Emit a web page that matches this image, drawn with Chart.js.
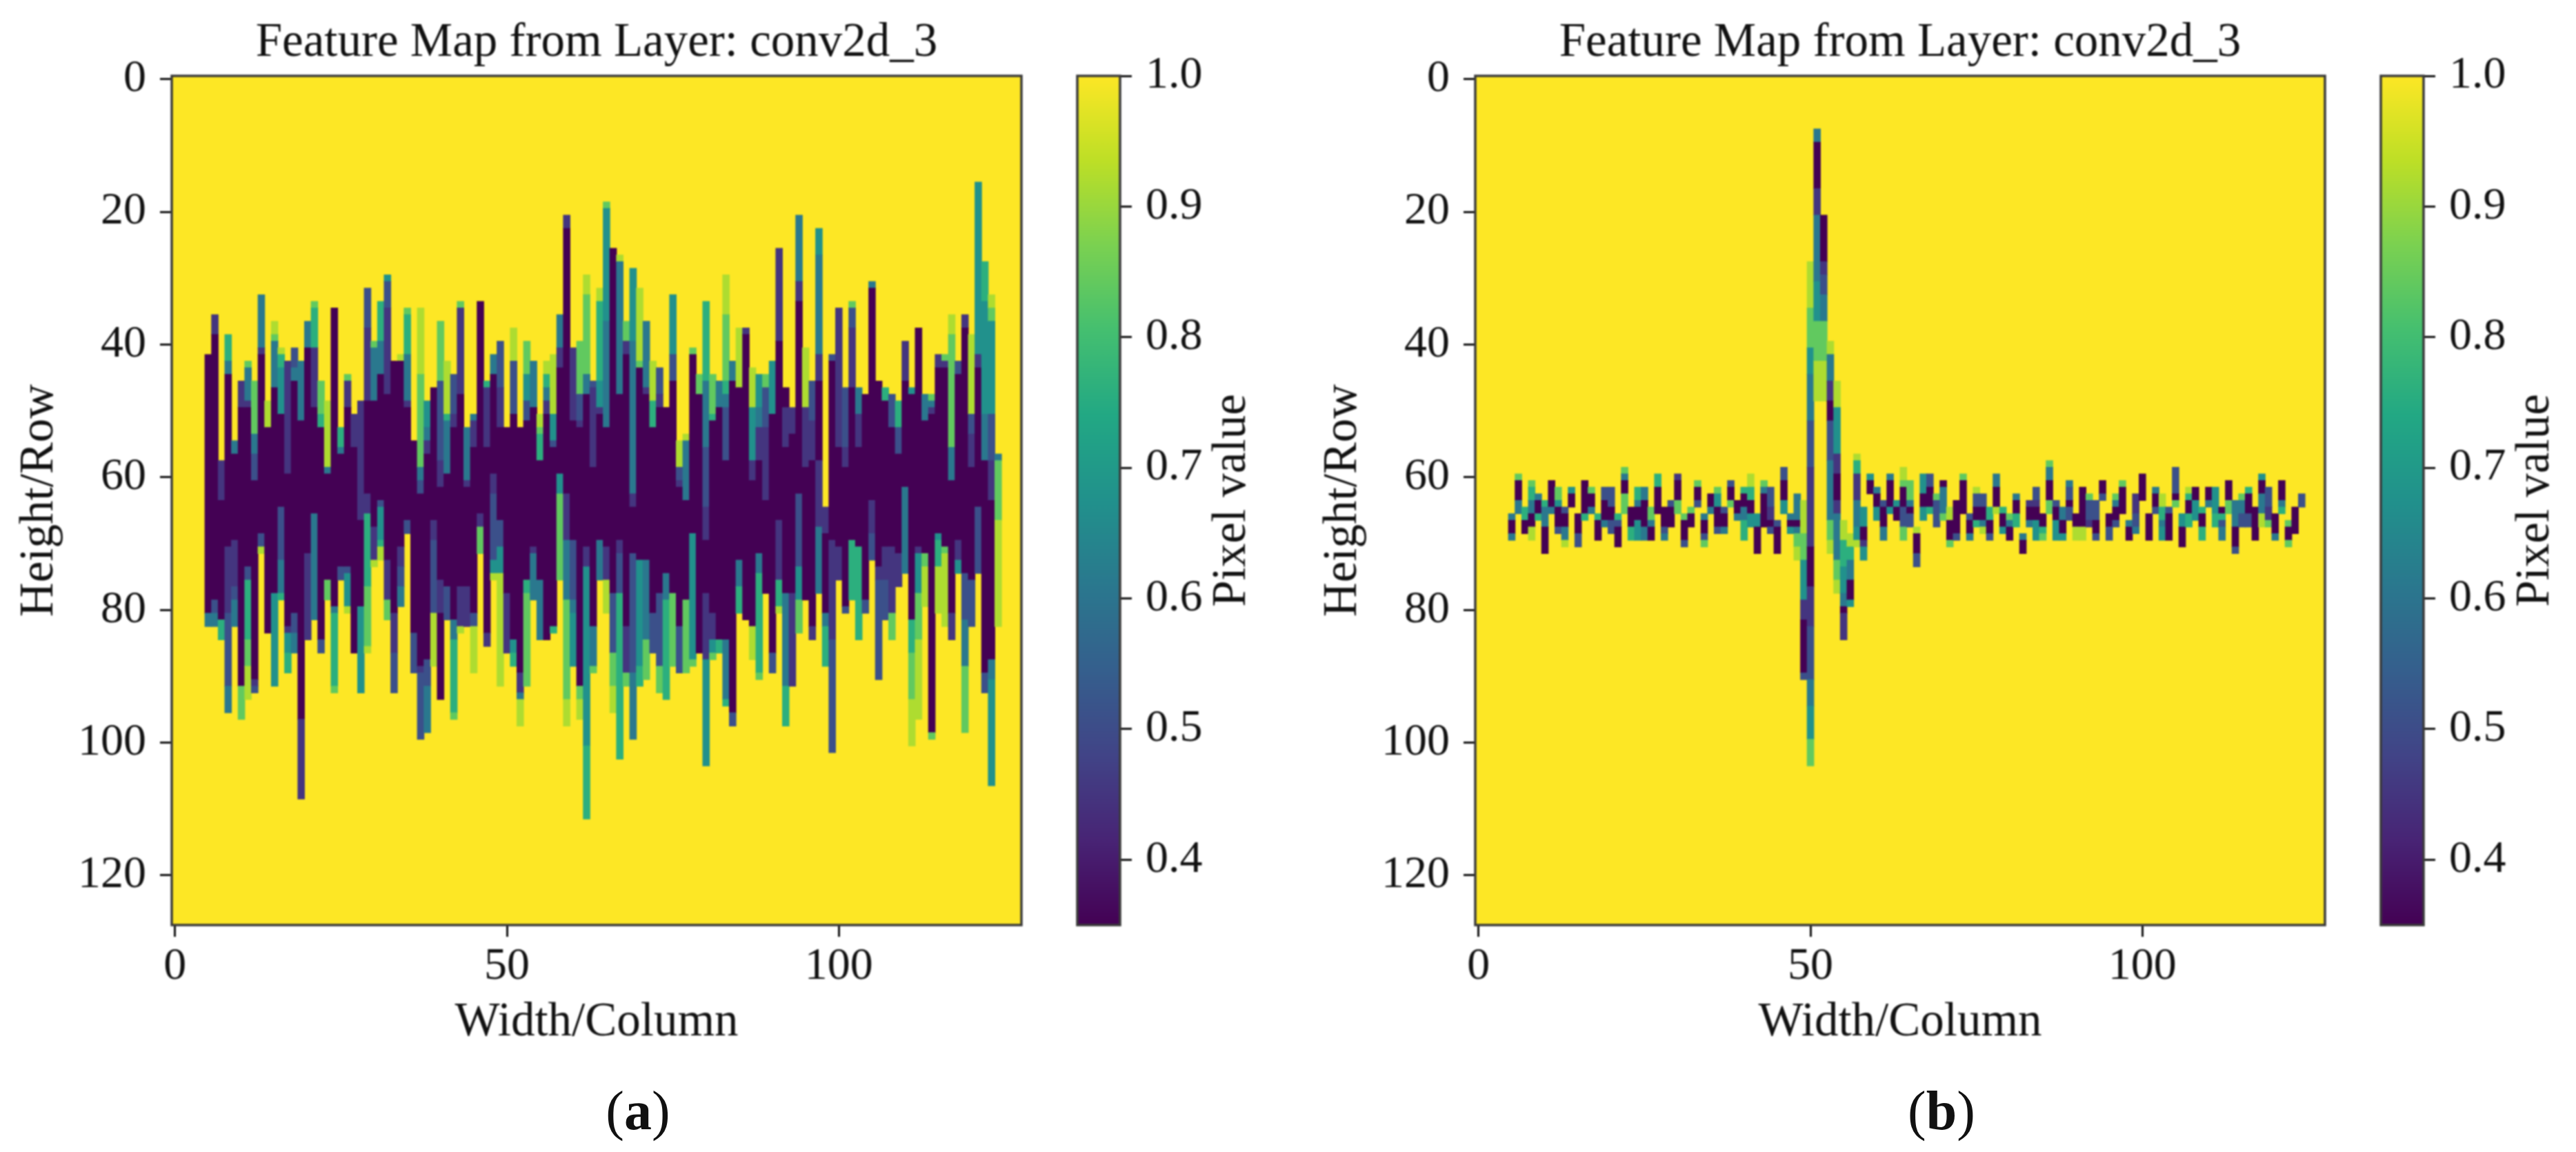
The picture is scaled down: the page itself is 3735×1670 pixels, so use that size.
<!DOCTYPE html>
<html>
<head>
<meta charset="utf-8">
<title>Feature maps</title>
<script src="https://cdn.jsdelivr.net/npm/chart.js@4"></script>
<style>
  html, body { margin: 0; padding: 0; background: #fff; }
  body { position: relative; width: 3735px; height: 1670px; overflow: hidden; }
  canvas { position: absolute; top: 0; filter: blur(1.1px); }
  .caption { position: absolute; top: 1565px; width: 200px; text-align: center; font: 80px "Liberation Serif", serif; color: #111; filter: blur(0.6px); }
</style>
</head>
<body>
<canvas id="heatA" width="1540" height="1560" style="left:0"></canvas>
<canvas id="barA" width="330" height="1560" style="left:1540px"></canvas>
<canvas id="heatB" width="1540" height="1560" style="left:1890px"></canvas>
<canvas id="barB" width="330" height="1560" style="left:3430px"></canvas>
<div class="caption" style="left:825px">(<b>a</b>)</div>
<div class="caption" style="left:2715px">(<b>b</b>)</div>
<script>
// pixel levels
var D = 0.35, P = 0.45, B = 0.51, T = 0.61, S = 0.675, G = 0.76, L = 0.84, Y = 0.92;

var chartTitle = 'Feature Map from Layer: conv2d_3';
var xLabel = 'Width/Column';
var yLabel = 'Height/Row';
var cbarLabel = 'Pixel value';
var xTicks = [0, 50, 100];
var yTicks = [0, 20, 40, 60, 80, 100, 120];
var cbarTicks = [0.4, 0.5, 0.6, 0.7, 0.8, 0.9, 1.0];
var cbarRange = [0.35, 1.0];
var gridSize = 128;
var firstColumn = 5;
var blankValue = 1;

var viridis = ['#440154', '#482475', '#414487', '#355f8d', '#2a788e', '#21918c', '#22a884', '#44bf70', '#7ad151', '#bddf26', '#fde725'];

// one list per column from column 5: start row, level, start row, level, ... end row
var columnsA = [
  [42,D,81,T,83],
  [36,P,39,D,79,B,81,T,83],
  [58,P,64,D,82,G,85],
  [39,G,43,T,45,D,71,P,81,B,92,T,96],
  [55,T,57,D,70,P,77,B,79,T,83],
  [46,P,50,D,92,L,97],
  [43,L,44,T,49,P,50,D,74,B,76,G,85,L,89,Y,94],
  [46,L,54,T,57,B,61,D,91,P,92,B,93],
  [33,T,41,P,42,D,69,B,71,Y,72],
  [49,Y,53,D,84],
  [37,Y,39,L,40,T,47,D,78,S,92],
  [41,Y,42,G,44,S,51,D,65,B,73,T,78,G,79],
  [43,P,60,D,83,P,84,S,87,G,90],
  [41,B,44,T,46,D,81,B,84,T,87],
  [43,T,52,D,97,P,109],
  [37,T,41,D,72,P,85],
  [34,L,35,G,41,P,50,D,66,T,82],
  [46,L,51,G,53,D,85,B,87],
  [49,Y,59,T,60,D,76,L,79],
  [35,D,80,T,81,G,92,L,93],
  [53,G,56,T,57,D,74,B,76],
  [45,L,46,P,50,D,74,B,75,S,80,Y,81],
  [51,P,56,D,87],
  [49,P,67,D,80,S,93],
  [32,B,38,P,49,D,63,P,66,G,77,L,86,Y,87],
  [40,L,41,T,49,D,68,P,73,Y,74],
  [34,G,40,T,45,D,64,B,65,S,70,G,71,Y,73],
  [30,S,31,B,35,P,48,D,73,P,79,L,82],
  [43,D,81,P,87,B,93],
  [42,Y,43,D,71,P,74,B,77,T,80],
  [35,L,36,G,42,T,49,P,50,D,67,B,69],
  [55,D,84,B,90],
  [35,Y,45,L,59,T,61,B,63,D,89,P,90,B,100],
  [49,S,53,T,55,P,57,D,88,B,92,T,99],
  [47,D,67,P,70,B,81,Y,89],
  [37,L,46,B,58,P,62,D,76,P,81,D,94],
  [43,Y,51,G,52,T,60,D,77,B,82],
  [45,B,51,P,53,D,82,T,85,G,96,L,97],
  [34,L,35,P,48,D,77,P,83,Y,84],
  [53,T,61,P,62,D,77,P,83],
  [51,T,52,P,56,D,81,B,83,Y,90],
  [34,D,66,P,68,L,72],
  [46,G,47,P,56,D,84,P,86],
  [42,T,45,D,60,P,63,B,73,S,75,Y,76],
  [40,B,47,P,53,D,67,B,71,S,75,Y,92],
  [53,D,78,P,87],
  [38,Y,43,B,51,D,85,S,87,G,89],
  [53,D,90,P,93,T,94,Y,98],
  [40,L,45,S,49,B,52,D,76,G,78,L,92],
  [43,T,50,D,71,P,72,T,79],
  [51,Y,53,L,54,G,58,D,76,T,85],
  [43,Y,45,G,47,T,49,P,51,D,85],
  [42,Y,51,S,55,B,56,D,83,G,84],
  [36,T,41,P,44,D,60,S,63,L,76],
  [21,P,23,D,63,P,70,T,79,L,94,Y,98],
  [41,P,52,D,70,B,79,T,81,S,89],
  [40,L,48,B,52,P,53,D,92,L,94,Y,97],
  [30,Y,33,L,45,T,48,D,71,P,74,S,101,G,112],
  [46,B,47,P,59,D,83,T,89,L,90],
  [32,Y,34,G,46,S,50,P,51,D,70,T,76],
  [19,L,20,S,37,T,53,D,71,P,76,Y,81],
  [26,D,78,B,87,L,92,Y,96],
  [27,Y,28,T,48,D,70,P,72,B,78,G,103],
  [37,L,40,P,42,D,83,P,90,L,92],
  [29,S,40,T,63,P,65,D,72,B,90,T,100],
  [32,Y,43,L,44,D,73,S,89,G,92],
  [37,T,47,P,48,D,73,T,85,L,91],
  [43,Y,49,G,53,D,81,B,87],
  [44,B,48,P,50,D,78,B,89,L,93],
  [50,D,75,T,79,G,94],
  [33,S,42,B,46,D,78,L,89],
  [55,Y,59,B,61,P,62,D,83,B,90],
  [54,Y,55,T,64,D,79,L,90],
  [41,L,42,D,69,S,88,L,89],
  [45,L,48,D,87],
  [34,G,46,T,56,B,65,P,70,D,78,P,88,S,104],
  [45,L,51,G,52,D,81,P,85,S,87,L,88],
  [46,T,50,D,85,G,87],
  [30,Y,36,L,46,G,48,T,50,B,58,D,85,T,94,G,95],
  [43,T,46,D,96,B,98],
  [38,Y,47,D,73,T,77,G,81],
  [38,P,39,D,82],
  [44,Y,50,S,58,P,61,D,83,Y,88],
  [45,S,50,T,53,P,58,D,72,T,75,G,90,L,91],
  [45,L,47,B,53,P,64,D,78],
  [43,S,51,D,87,B,90],
  [26,P,40,D,67,P,76,G,80,Y,81],
  [47,D,50,P,56,D,78,T,92,G,98],
  [50,P,54,D,78,P,92],
  [21,T,31,P,34,D,63,B,74,S,79,L,84],
  [41,Y,50,P,59,D,79],
  [46,B,52,P,58,D,83,P,85],
  [23,S,27,T,42,P,46,D,58,P,68,T,78],
  [65,P,69,D,81,T,83,G,89],
  [42,B,43,D,70,P,85,B,102],
  [35,P,56,D,71,P,76],
  [47,B,56,P,59,D,80,B,81],
  [34,L,35,B,38,P,47,D,70,G,79],
  [47,T,51,P,56,D,71,G,85],
  [48,D,79,B,81],
  [31,T,32,D,64,P,69,B,73],
  [46,D,74,P,76,B,91],
  [47,G,49,D,71,P,76,B,82],
  [48,B,53,D,71,P,81,L,85],
  [49,G,53,B,57,D,72,P,77],
  [40,P,46,D,62,T,75],
  [47,S,48,D,82,G,87,L,94,Y,101],
  [38,D,71,P,72,S,78,L,85,Y,97],
  [48,T,52,D,72,L,74,Y,80],
  [48,L,49,T,50,P,51,D,99,L,100],
  [42,P,44,D,69,S,70,G,74,Y,81],
  [42,L,43,P,44,D,71,L,72,Y,83],
  [36,Y,39,L,56,T,61,D,81,P,85],
  [43,B,45,D,70,P,73,S,75],
  [36,P,38,D,75,B,82,T,89,L,99],
  [39,Y,51,B,54,P,59,D,76,B,83],
  [16,S,42,P,44,D,65,B,75],
  [28,G,34,S,51,T,58,D,90,B,93],
  [33,Y,35,L,37,S,51,B,58,P,64,D,88,T,91,S,107],
  [57,T,58,L,67,Y,83]
];

var columnsB = [
  [66,T,67,D,69,T,70],
  [60,L,61,D,64,T,66],
  [65,G,67,D,69],
  [61,L,62,G,64,T,66,D,68,Y,70],
  [63,T,64,D,66,G,67],
  [64,G,65,T,68,D,72],
  [61,D,65,T,66],
  [62,L,64,S,65,D,68,B,69],
  [65,B,66,D,68,T,70,Y,71],
  [62,S,63,D,65],
  [66,D,69,B,71],
  [61,D,66,G,67],
  [62,L,63,D,65,T,66],
  [66,G,67,D,70],
  [62,B,64,D,67,T,68],
  [62,B,65,D,67,B,69],
  [66,G,67,B,68,D,71],
  [59,L,60,T,61,D,63,L,66],
  [65,D,68,G,70],
  [62,G,64,T,65,D,67,S,70],
  [62,T,64,D,68,T,70],
  [65,L,67,T,68,D,70],
  [60,G,62,D,66],
  [65,D,68,B,69,T,70],
  [64,B,65,D,68],
  [60,P,61,D,64,L,66],
  [66,L,67,D,70,B,71],
  [65,L,66,D,68],
  [61,L,62,D,64,B,65],
  [66,T,67,D,69,B,70,L,71],
  [63,D,65,T,66],
  [62,L,63,S,65,D,68,B,69],
  [65,B,66,D,68,T,69],
  [61,B,62,D,64,L,65],
  [64,D,66,T,67],
  [62,G,63,D,65,T,67,G,70],
  [60,Y,62,G,64,D,66,S,68],
  [66,S,68,D,72],
  [61,L,62,T,63,D,68],
  [62,B,65,P,67,D,68,B,69],
  [67,B,68,D,72],
  [59,B,61,D,64,S,66],
  [66,T,67,D,68,S,69],
  [63,T,67,D,68,T,69,L,71,Y,73],
  [64,Y,69,L,73,S,79,P,82,D,90,B,91],
  [28,Y,35,L,41,S,45,T,52,B,59,P,71,D,77,P,83,B,91,T,95,S,100,L,104],
  [8,T,10,D,17,P,21,T,31,S,37,L,43,Y,49],
  [21,D,28,P,30,B,33,T,37,L,43,Y,49],
  [40,Y,42,T,46,P,49,D,52,B,58,T,67,L,70,Y,72],
  [46,Y,50,S,57,P,60,D,64,P,66,T,73,L,76,Y,78],
  [67,Y,70,G,74,S,78,T,80,D,81,P,85],
  [69,Y,71,G,73,T,76,D,79,S,80],
  [57,Y,58,G,60,P,64,T,68,S,70,Y,71],
  [65,S,68,D,70,P,71,S,73],
  [60,S,61,D,63],
  [62,T,63,D,65,S,67],
  [64,B,65,D,68,T,70],
  [60,T,61,D,65,S,66],
  [64,S,65,D,67],
  [59,Y,61,L,62,D,65,B,68,L,70],
  [61,L,64,T,65,D,66,B,68],
  [68,Y,69,D,72,B,74],
  [60,S,63,D,65,S,67],
  [60,B,62,D,65,G,66],
  [63,L,64,B,68],
  [61,D,62,T,66,L,67],
  [65,Y,67,D,70,L,71],
  [64,D,69,B,70],
  [60,L,61,D,66],
  [66,B,67,D,69,T,70],
  [62,Y,63,B,65,D,67,G,68],
  [63,B,65,D,67,T,68,Y,69],
  [65,G,67,D,69,B,70],
  [60,T,62,D,65,Y,66],
  [65,G,66,D,68,S,69],
  [66,L,67,T,68,D,70],
  [63,T,64,D,66,G,68],
  [69,T,70,D,72],
  [64,P,65,D,67,T,68],
  [62,B,64,P,65,D,67,S,70],
  [66,D,68,G,69,L,70],
  [58,L,59,T,61,D,64,L,66],
  [64,B,65,D,67,S,70],
  [65,T,67,D,69,S,70],
  [61,T,62,B,64,D,65,B,67],
  [66,D,68,Y,70],
  [62,D,68,Y,70],
  [63,L,64,B,67,P,68],
  [64,B,67,D,69,B,70],
  [61,D,63,B,64],
  [66,D,68,B,70],
  [63,L,64,T,65,D,67,B,68],
  [61,L,62,D,66],
  [67,T,68,D,70],
  [63,P,66,B,68,T,69],
  [60,D,64],
  [66,D,70],
  [62,T,63,D,65,B,66],
  [63,Y,65,G,67,T,68,S,70],
  [65,B,66,D,70],
  [59,B,63,D,64,L,65],
  [66,S,68,D,71],
  [62,Y,63,G,64,D,66,G,68],
  [62,D,64,S,67],
  [65,G,66,D,68,G,70],
  [62,D,64,T,65],
  [62,S,66,G,68],
  [65,D,66,G,67,B,68,T,70],
  [61,D,64,L,66],
  [64,T,68,D,71,B,72],
  [63,L,64,T,66,B,68],
  [62,G,63,D,66,B,68],
  [65,D,70],
  [60,S,61,D,63,T,66,Y,68],
  [62,B,65,P,67,L,68],
  [66,D,69,T,70],
  [61,D,64,T,65,G,66],
  [67,L,68,D,70,L,71],
  [65,D,69],
  [63,B,65]
];

var inkColor = '#111';
var spineColor = '#3a3a3a';
var serif = '"Liberation Serif", serif';

function hexToRgb(hex) {
  return [parseInt(hex.substr(1, 2), 16), parseInt(hex.substr(3, 2), 16), parseInt(hex.substr(5, 2), 16)];
}

// viridis lookup, normalised on the colour bar range
function colorOf(value) {
  var t = (value - cbarRange[0]) / (cbarRange[1] - cbarRange[0]);
  t = Math.max(0, Math.min(1, t)) * (viridis.length - 1);
  var i = Math.min(Math.floor(t), viridis.length - 2);
  var a = hexToRgb(viridis[i]), b = hexToRgb(viridis[i + 1]), f = t - i;
  return 'rgb(' + Math.round(a[0] + (b[0] - a[0]) * f) + ',' + Math.round(a[1] + (b[1] - a[1]) * f) + ',' + Math.round(a[2] + (b[2] - a[2]) * f) + ')';
}

function blankCells() {
  var cells = [];
  for (var c = 0; c < gridSize; c++) {
    cells.push({ x: c, y: [-0.5, gridSize - 0.5], v: blankValue });
  }
  return cells;
}

function buildCells(columns) {
  var cells = [];
  columns.forEach(function(run, i) {
    for (var j = 0; j < run.length - 2; j += 2) {
      cells.push({ x: firstColumn + i, y: [run[j] - 0.5, run[j + 2] - 0.5], v: run[j + 1] });
    }
  });
  return cells;
}

var outlinePlugin = {
  id: 'outline',
  afterDraw: function(chart) {
    var a = chart.chartArea, ctx = chart.ctx;
    ctx.save();
    ctx.strokeStyle = spineColor;
    ctx.lineWidth = 3.5;
    ctx.strokeRect(a.left, a.top, a.right - a.left, a.bottom - a.top);
    ctx.restore();
  }
};

var cbarLabelPlugin = {
  id: 'cbarLabel',
  afterDraw: function(chart) {
    var ctx = chart.ctx;
    ctx.save();
    ctx.translate(247, (chart.chartArea.top + chart.chartArea.bottom) / 2);
    ctx.rotate(-Math.PI / 2);
    ctx.font = '69px ' + serif;
    ctx.fillStyle = inkColor;
    ctx.textAlign = 'center';
    ctx.textBaseline = 'middle';
    ctx.fillText(cbarLabel, 0, 0);
    ctx.restore();
  }
};

function cellColor(ctx) {
  return ctx.raw ? colorOf(ctx.raw.v) : colorOf(blankValue);
}

function makeHeatmap(id, columns) {
  var barOpts = { grouped: false, categoryPercentage: 1, barPercentage: 1, inflateAmount: 0.5, borderWidth: 0, backgroundColor: cellColor };
  return new Chart(document.getElementById(id), {
    type: 'bar',
    data: {
      // the first dataset is painted last, so the cells sit above the blank field
      datasets: [
        Object.assign({ data: buildCells(columns) }, barOpts),
        Object.assign({ data: blankCells() }, barOpts)
      ]
    },
    options: {
      responsive: false,
      animation: false,
      devicePixelRatio: 1,
      layout: { padding: { left: 0, right: 59, top: 0, bottom: 0 } },
      plugins: {
        legend: { display: false },
        tooltip: { enabled: false },
        title: {
          display: true,
          text: chartTitle,
          fullSize: false,
          color: inkColor,
          font: { family: serif, size: 69, weight: 'normal', lineHeight: 1.2 },
          padding: { top: 21, bottom: 6.2 }
        }
      },
      scales: {
        x: {
          type: 'linear',
          min: -0.5,
          max: gridSize - 0.5,
          offset: false,
          border: { display: false },
          grid: { offset: false, drawOnChartArea: false, tickLength: 17, tickColor: inkColor, tickWidth: 3 },
          afterBuildTicks: function(scale) { scale.ticks = xTicks.map(function(v) { return { value: v }; }); },
          afterFit: function(scale) { scale.height = 219; },
          ticks: {
            color: inkColor, padding: 4, maxRotation: 0, autoSkip: false,
            font: { family: serif, size: 66 },
            callback: function(v) { return String(v); }
          },
          title: {
            display: true, text: xLabel, color: inkColor,
            font: { family: serif, size: 69, lineHeight: 1.2 },
            padding: { top: 0, bottom: 36 }
          }
        },
        y: {
          type: 'linear',
          reverse: true,
          min: -0.5,
          max: gridSize - 0.5,
          border: { display: false },
          grid: { drawOnChartArea: false, tickLength: 17, tickColor: inkColor, tickWidth: 3 },
          afterBuildTicks: function(scale) { scale.ticks = yTicks.map(function(v) { return { value: v }; }); },
          afterFit: function(scale) { scale.width = 249; },
          ticks: {
            color: inkColor, padding: 20, autoSkip: false,
            font: { family: serif, size: 66 },
            callback: function(v) { return String(v); }
          },
          title: {
            display: true, text: yLabel, color: inkColor,
            font: { family: serif, size: 69, lineHeight: 1.2 },
            padding: { top: 16, bottom: 0 }
          }
        }
      }
    },
    plugins: [outlinePlugin]
  });
}

function cbarGradient(ctx) {
  var area = ctx.chart.chartArea;
  if (!area) return viridis[5];
  var g = ctx.chart.ctx.createLinearGradient(0, area.bottom, 0, area.top);
  viridis.forEach(function(c, i) { g.addColorStop(i / (viridis.length - 1), c); });
  return g;
}

function makeColorbar(id) {
  return new Chart(document.getElementById(id), {
    type: 'bar',
    data: {
      labels: [cbarLabel],
      datasets: [{ data: [cbarRange], categoryPercentage: 1, barPercentage: 1, borderWidth: 0, backgroundColor: cbarGradient }]
    },
    options: {
      responsive: false,
      animation: false,
      devicePixelRatio: 1,
      layout: { padding: { left: 22, right: 0, top: 110, bottom: 219 } },
      plugins: { legend: { display: false }, tooltip: { enabled: false }, title: { display: false } },
      scales: {
        x: { display: false },
        y: {
          position: 'right',
          min: cbarRange[0],
          max: cbarRange[1],
          border: { display: false },
          grid: { drawOnChartArea: false, tickLength: 17, tickColor: inkColor, tickWidth: 3 },
          afterBuildTicks: function(scale) { scale.ticks = cbarTicks.map(function(v) { return { value: v }; }); },
          afterFit: function(scale) { scale.width = 246; },
          ticks: {
            color: inkColor, padding: 20, autoSkip: false,
            font: { family: serif, size: 66 },
            callback: function(v) { return v.toFixed(1); }
          }
        }
      }
    },
    plugins: [outlinePlugin, cbarLabelPlugin]
  });
}

makeHeatmap('heatA', columnsA);
makeColorbar('barA');
makeHeatmap('heatB', columnsB);
makeColorbar('barB');
</script>
</body>
</html>
